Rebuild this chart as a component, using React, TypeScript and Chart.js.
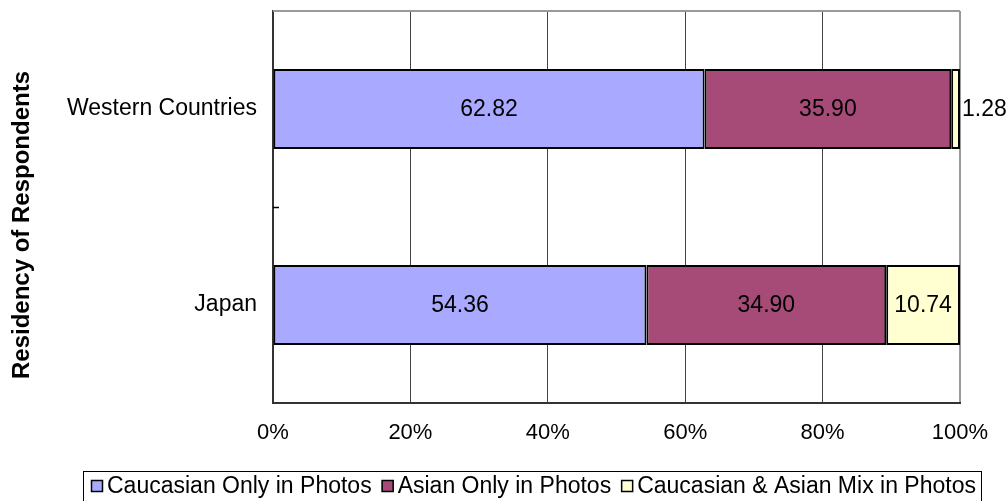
import React, { useEffect, useRef } from 'react';
import { Chart, registerables } from 'chart.js';

Chart.register(...registerables);

// Survey categories and stacked percentage shares
const residencies = ['Western Countries', 'Japan'];
const caucasianOnly = [62.82, 54.36];
const asianOnly = [35.9, 34.9];
const mixedPhotos = [1.28, 10.74];
const seriesNames = ['Caucasian Only in Photos', 'Asian Only in Photos', 'Caucasian & Asian Mix in Photos'];
const seriesColors = ['#A9A9FF', '#A64B78', '#FFFFD2'];
const axisTitle = 'Residency of Respondents';

const FONT = '"Liberation Sans", Arial, Helvetica, sans-serif';
const WIDTH = 1006;
const HEIGHT = 501;

// Value labels inside each segment (or just past the end when it is too narrow)
const valueLabels = {
  id: 'valueLabels',
  afterDatasetsDraw(chart: any) {
    const ctx = chart.ctx;
    ctx.save();
    ctx.font = `23px ${FONT}`;
    ctx.fillStyle = '#000';
    ctx.textBaseline = 'middle';
    chart.data.datasets.forEach((ds: any, di: number) => {
      const meta = chart.getDatasetMeta(di);
      meta.data.forEach((bar: any, i: number) => {
        const v = ds.data[i] as number;
        const { x, y, base } = bar.getProps(['x', 'y', 'base'], true);
        const text = v.toFixed(2);
        const w = ctx.measureText(text).width;
        const seg = Math.abs(x - base);
        if (w + 8 < seg) {
          ctx.textAlign = 'center';
          ctx.fillText(text, (x + base) / 2, y + 1);
        } else {
          ctx.textAlign = 'left';
          ctx.fillText(text, Math.max(x, base) + 2, y + 1);
        }
      });
    });
    ctx.restore();
  },
};

// Frame details, axis title and the boxed legend
const decorations = {
  id: 'decorations',
  afterDraw(chart: any) {
    const ctx = chart.ctx;
    const area = chart.chartArea;
    const yScale = chart.scales.y;
    ctx.save();

    // top edge of the plot frame
    ctx.strokeStyle = '#9a9a9a';
    ctx.lineWidth = 2;
    ctx.beginPath();
    ctx.moveTo(area.left, area.top);
    ctx.lineTo(area.right, area.top);
    ctx.stroke();

    // inner tick between the two categories
    const mid = (yScale.getPixelForValue(0) + yScale.getPixelForValue(1)) / 2;
    ctx.strokeStyle = '#000';
    ctx.lineWidth = 1.5;
    ctx.beginPath();
    ctx.moveTo(area.left, Math.round(mid) + 0.5);
    ctx.lineTo(area.left + 6, Math.round(mid) + 0.5);
    ctx.stroke();

    // rotated axis title
    ctx.save();
    ctx.translate(22, 225);
    ctx.rotate(-Math.PI / 2);
    ctx.font = `bold 24px ${FONT}`;
    ctx.fillStyle = '#000';
    ctx.textAlign = 'center';
    ctx.textBaseline = 'middle';
    ctx.fillText(axisTitle, 0, 0);
    ctx.restore();

    // legend frame
    ctx.strokeStyle = '#000';
    ctx.lineWidth = 1;
    ctx.strokeRect(83.5, 471.5, 898, 40);

    // legend entries
    ctx.font = `23px ${FONT}`;
    ctx.textBaseline = 'middle';
    ctx.textAlign = 'left';
    let x = 91;
    const cy = 486;
    const box = 12;
    chart.data.datasets.forEach((ds: any, i: number) => {
      ctx.fillStyle = ds.backgroundColor;
      ctx.fillRect(x, cy - box / 2, box, box);
      ctx.strokeStyle = '#000';
      ctx.lineWidth = 1.5;
      ctx.strokeRect(x + 0.5, cy - box / 2 + 0.5, box - 1, box - 1);
      ctx.fillStyle = '#000';
      const label = seriesNames[i];
      ctx.fillText(label, x + box + 4, cy + 1);
      x += box + 4 + ctx.measureText(label).width + 10;
    });

    ctx.restore();
  },
};

export default function App() {
  const canvasRef = useRef<HTMLCanvasElement | null>(null);

  useEffect(() => {
    const canvas = canvasRef.current;
    if (!canvas) return;
    const values = [caucasianOnly, asianOnly, mixedPhotos];
    const chart = new Chart(canvas, {
      type: 'bar',
      data: {
        labels: residencies,
        datasets: values.map((data, i) => ({
          label: seriesNames[i],
          data,
          backgroundColor: seriesColors[i],
          borderColor: '#000',
          borderWidth: 2,
          borderSkipped: false,
          barPercentage: 0.408,
          categoryPercentage: 1,
        })),
      },
      options: {
        indexAxis: 'y',
        responsive: false,
        animation: false,
        devicePixelRatio: 1,
        layout: { autoPadding: false, padding: { left: 0, top: 11, right: 46, bottom: 38 } },
        plugins: {
          legend: { display: false },
          tooltip: { enabled: false },
        },
        scales: {
          x: {
            stacked: true,
            min: 0,
            max: 100,
            ticks: {
              stepSize: 20,
              padding: 17,
              color: '#000',
              font: { family: FONT, size: 22 },
              callback: (v: any) => `${v}%`,
            },
            grid: {
              drawTicks: false,
              color: (c: any) => (c.tick && c.tick.value === 100 ? '#9a9a9a' : '#444'),
              lineWidth: (c: any) => (c.tick && c.tick.value === 100 ? 2 : 1),
            },
            border: { display: true, color: '#333', width: 2 },
            afterFit: (s: any) => {
              s.height = 60;
              s.paddingLeft = 0;
              s.paddingRight = 0;
            },
          },
          y: {
            stacked: true,
            ticks: {
              padding: 16,
              color: '#000',
              font: { family: FONT, size: 23 },
            },
            grid: { display: true, drawOnChartArea: false, drawTicks: false },
            border: { display: true, color: '#333', width: 2 },
            afterFit: (s: any) => {
              s.width = 273;
              s.paddingTop = 0;
              s.paddingBottom = 0;
            },
          },
        },
      },
      plugins: [valueLabels, decorations],
    });
    return () => chart.destroy();
  }, []);

  return (
    <div style={{ position: 'fixed', left: 0, top: 0, width: WIDTH, height: HEIGHT, background: '#fff' }}>
      <canvas ref={canvasRef} width={WIDTH} height={HEIGHT} style={{ width: WIDTH, height: HEIGHT }} />
    </div>
  );
}
